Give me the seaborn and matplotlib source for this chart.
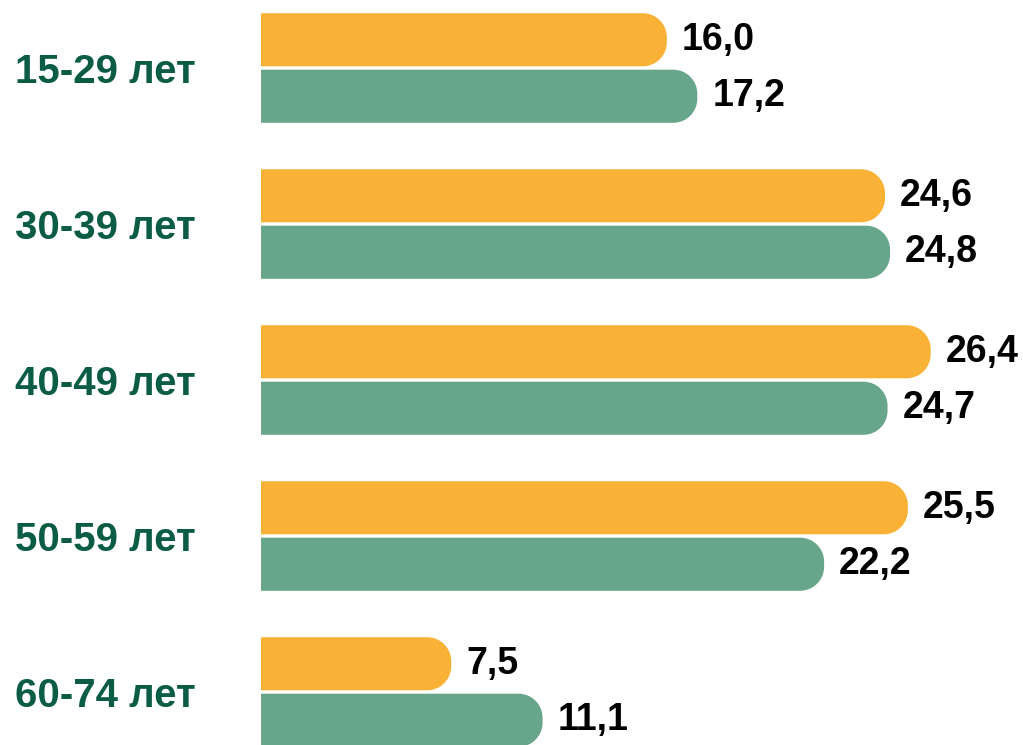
import matplotlib
matplotlib.use("Agg")
import matplotlib.pyplot as plt
from matplotlib.patches import PathPatch
from matplotlib.path import Path
import seaborn as sns
import pandas as pd

# ---- data ----
age_groups = ["15-29 лет", "30-39 лет", "40-49 лет", "50-59 лет", "60-74 лет"]
series_names = ["Серия 1", "Серия 2"]
values_orange = [16.0, 24.6, 26.4, 25.5, 7.5]
values_green = [17.2, 24.8, 24.7, 22.2, 11.1]

colors = ["#F9B236", "#68A68C"]
label_color = "#0A5C44"

df = pd.DataFrame({
    "group": age_groups * 2,
    "series": [series_names[0]] * len(age_groups) + [series_names[1]] * len(age_groups),
    "value": values_orange + values_green,
})

W, H, DPI = 1023, 745, 100
sns.set_style("white")
plt.rcParams["font.family"] = ["Liberation Sans", "DejaVu Sans"]

fig = plt.figure(figsize=(W / DPI, H / DPI), dpi=DPI)
ax_left_px, ax_right_px = 261, 1022
ax = fig.add_axes([ax_left_px / W, 0, (ax_right_px - ax_left_px) / W, 1])

sns.barplot(data=df, y="group", x="value", hue="series", order=age_groups,
            hue_order=series_names, palette=colors, orient="h",
            width=0.724, gap=0.06, legend=False, ax=ax, saturation=1)

xmax = 30.0
group_px = 156.0
ax.set_xlim(0, xmax)
ax.set_ylim((H - 68) / group_px, -68 / group_px)

px_per_x = (ax_right_px - ax_left_px) / xmax
px_per_y = group_px
radius_px = 24.0
K = 0.5523


def rounded_end_path(x0, x1, ya, yb, rx, ry):
    # ya < yb in data; right end rounded, left end square
    rx = min(rx, (x1 - x0))
    ry = min(ry, (yb - ya) / 2)
    verts = [
        (x0, ya),
        (x1 - rx, ya),
        (x1 - rx + K * rx, ya), (x1, ya + ry - K * ry), (x1, ya + ry),
        (x1, yb - ry),
        (x1, yb - ry + K * ry), (x1 - rx + K * rx, yb), (x1 - rx, yb),
        (x0, yb),
        (x0, ya),
    ]
    codes = [Path.MOVETO, Path.LINETO,
             Path.CURVE4, Path.CURVE4, Path.CURVE4,
             Path.LINETO,
             Path.CURVE4, Path.CURVE4, Path.CURVE4,
             Path.LINETO, Path.CLOSEPOLY]
    return Path(verts, codes)


for container in ax.containers:
    for bar in container:
        x0 = bar.get_x()
        y0 = bar.get_y()
        w = bar.get_width()
        h = bar.get_height()
        fc = bar.get_facecolor()
        bar.set_visible(False)
        path = rounded_end_path(x0, x0 + w, y0, y0 + h,
                                radius_px / px_per_x, radius_px / px_per_y)
        ax.add_patch(PathPatch(path, facecolor=fc, edgecolor="none", linewidth=0))
        label = f"{w:.1f}".replace(".", ",")
        ax.text(x0 + w + 15 / px_per_x, y0 + h / 2, label, ha="left", va="center",
                fontsize=27, fontweight="bold", color="black", clip_on=False)

ax.set_yticks(range(len(age_groups)))
ax.set_yticklabels(age_groups, fontsize=29, fontweight="bold", color=label_color, ha="center")
ax.tick_params(axis="y", length=0, pad=156 / DPI * 72)
ax.set_xticks([])
ax.set_xlabel("")
ax.set_ylabel("")
for s in ax.spines.values():
    s.set_visible(False)

fig.savefig("out.png", dpi=DPI)
